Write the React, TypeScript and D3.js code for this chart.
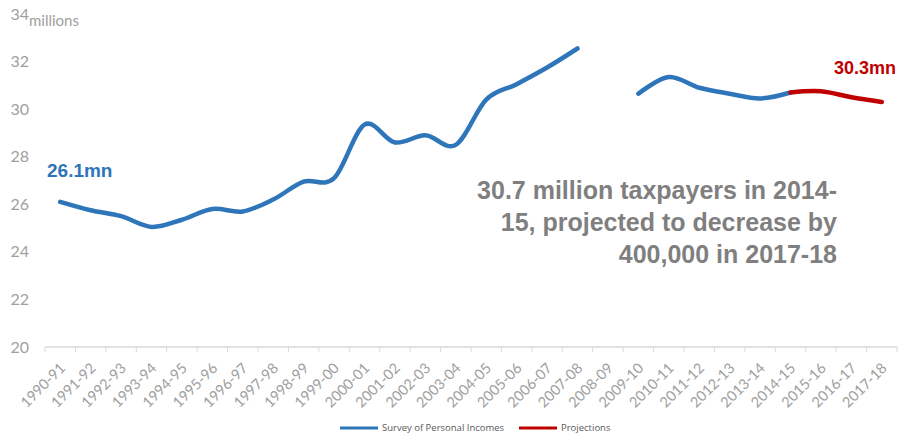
import React, { useRef, useEffect } from 'react';
import * as d3 from 'd3';

const years = [
  '1990-91', '1991-92', '1992-93', '1993-94', '1994-95', '1995-96', '1996-97',
  '1997-98', '1998-99', '1999-00', '2000-01', '2001-02', '2002-03', '2003-04',
  '2004-05', '2005-06', '2006-07', '2007-08', '2008-09', '2009-10', '2010-11',
  '2011-12', '2012-13', '2013-14', '2014-15', '2015-16', '2016-17', '2017-18',
];

// Survey of Personal Incomes (millions), gap in 2008-09
const spiValues: (number | null)[] = [
  26.1, 25.75, 25.5, 25.05, 25.35, 25.8, 25.7, 26.2, 26.95, 27.1,
  29.35, 28.6, 28.9, 28.5, 30.4, 31.05, 31.75, 32.55, null, 30.65,
  31.35, 30.9, 30.65, 30.45, 30.7, null, null, null,
];

// Projections (millions)
const projValues: (number | null)[] = [
  null, null, null, null, null, null, null, null, null, null,
  null, null, null, null, null, null, null, null, null, null,
  null, null, null, null, 30.7, 30.75, 30.5, 30.3,
];

const yTicks = [20, 22, 24, 26, 28, 30, 32, 34];

const annotationLines = [
  '30.7 million taxpayers in 2014-',
  '15, projected to decrease by',
  '400,000 in 2017-18',
];

const BLUE = '#2f75b9';
const RED = '#c00000';

export default function App() {
  const svgRef = useRef<SVGSVGElement>(null);

  useEffect(() => {
    if (!svgRef.current) return;
    const svg = d3.select(svgRef.current);
    svg.selectAll('*').remove();

    const W = 899;
    const H = 437;
    const left = 45;
    const right = 897;
    const top = 14;
    const bottom = 347;

    const x = d3.scaleBand<string>().domain(years).range([left, right]).padding(0);
    const y = d3.scaleLinear().domain([20, 34]).range([bottom, top]);
    const cx = (d: string) => (x(d) || 0) + x.bandwidth() / 2;

    svg.attr('width', W).attr('height', H);

    // y tick labels
    svg.append('g')
      .selectAll('text')
      .data(yTicks)
      .enter()
      .append('text')
      .attr('x', 29)
      .attr('y', d => y(d))
      .attr('dy', '0.35em')
      .attr('text-anchor', 'end')
      .attr('font-family', 'Lato, "Open Sans", sans-serif')
      .attr('font-size', 16)
      .attr('fill', '#a0a0a0')
      .text(d => d);

    svg.append('text')
      .attr('x', 29)
      .attr('y', 26)
      .attr('font-family', 'Lato, "Open Sans", sans-serif')
      .attr('font-size', 15)
      .attr('fill', '#a0a0a0')
      .text('millions');

    // x axis line and ticks
    const axis = svg.append('g');
    axis.append('line')
      .attr('x1', left).attr('x2', right)
      .attr('y1', bottom).attr('y2', bottom)
      .attr('stroke', '#d9d9d9')
      .attr('stroke-width', 1.5);
    axis.selectAll('.tick')
      .data([...years.map(d => x(d) || 0), right])
      .enter()
      .append('line')
      .attr('x1', d => d).attr('x2', d => d)
      .attr('y1', bottom).attr('y2', bottom + 5)
      .attr('stroke', '#d9d9d9')
      .attr('stroke-width', 1);

    axis.selectAll('.xlabel')
      .data(years)
      .enter()
      .append('text')
      .attr('transform', d => `translate(${cx(d) + 6},${bottom + 22}) rotate(-45)`)
      .attr('text-anchor', 'end')
      .attr('font-family', 'Lato, "Open Sans", sans-serif')
      .attr('font-size', 14.5)
      .attr('fill', '#a0a0a0')
      .text(d => d);

    // lines
    const mkLine = () => d3.line<number | null>()
      .defined(d => d !== null)
      .x((_, i) => cx(years[i]))
      .y(d => y(d as number))
      .curve(d3.curveCardinal.tension(0));

    svg.append('path')
      .datum(spiValues)
      .attr('fill', 'none')
      .attr('stroke', BLUE)
      .attr('stroke-width', 4.5)
      .attr('stroke-linecap', 'round')
      .attr('stroke-linejoin', 'round')
      .attr('d', mkLine());

    svg.append('path')
      .datum(projValues)
      .attr('fill', 'none')
      .attr('stroke', RED)
      .attr('stroke-width', 4.5)
      .attr('stroke-linecap', 'round')
      .attr('stroke-linejoin', 'round')
      .attr('d', mkLine());

    // value labels
    svg.append('text')
      .attr('x', 47)
      .attr('y', 177)
      .attr('font-family', '"Liberation Sans", Arial, sans-serif')
      .attr('font-weight', 'bold')
      .attr('font-size', 19)
      .attr('fill', BLUE)
      .text(`${spiValues[0]}mn`);

    // kept just inside the right edge
    svg.append('text')
      .attr('x', 896)
      .attr('y', 74)
      .attr('text-anchor', 'end')
      .attr('font-family', '"Liberation Sans", Arial, sans-serif')
      .attr('font-weight', 'bold')
      .attr('font-size', 18)
      .attr('fill', RED)
      .text(`${projValues[projValues.length - 1]}mn`);

    // annotation
    svg.append('g')
      .selectAll('text')
      .data(annotationLines)
      .enter()
      .append('text')
      .attr('x', 837)
      .attr('y', (_, i) => 199 + i * 32)
      .attr('text-anchor', 'end')
      .attr('font-family', '"Liberation Sans", Arial, sans-serif')
      .attr('font-weight', 'bold')
      .attr('font-size', 25)
      .attr('fill', '#7f7f7f')
      .text(d => d);

    // legend
    const legend = svg.append('g').attr('font-family', '"Open Sans", Lato, sans-serif').attr('font-size', 9.5).attr('fill', '#595959');
    const items = [
      { label: 'Survey of Personal Incomes', color: BLUE, x: 340 },
      { label: 'Projections', color: RED, x: 519 },
    ];
    items.forEach(it => {
      legend.append('line')
        .attr('x1', it.x).attr('x2', it.x + 38)
        .attr('y1', 428).attr('y2', 428)
        .attr('stroke', it.color)
        .attr('stroke-width', 3);
      legend.append('text')
        .attr('x', it.x + 42)
        .attr('y', 428)
        .attr('dy', '0.35em')
        .text(it.label);
    });
  }, []);

  return (
    <div style={{ position: 'absolute', left: 0, top: 0, width: 899, height: 437, background: '#fff' }}>
      <svg ref={svgRef} style={{ display: 'block', overflow: 'hidden' }} />
    </div>
  );
}
